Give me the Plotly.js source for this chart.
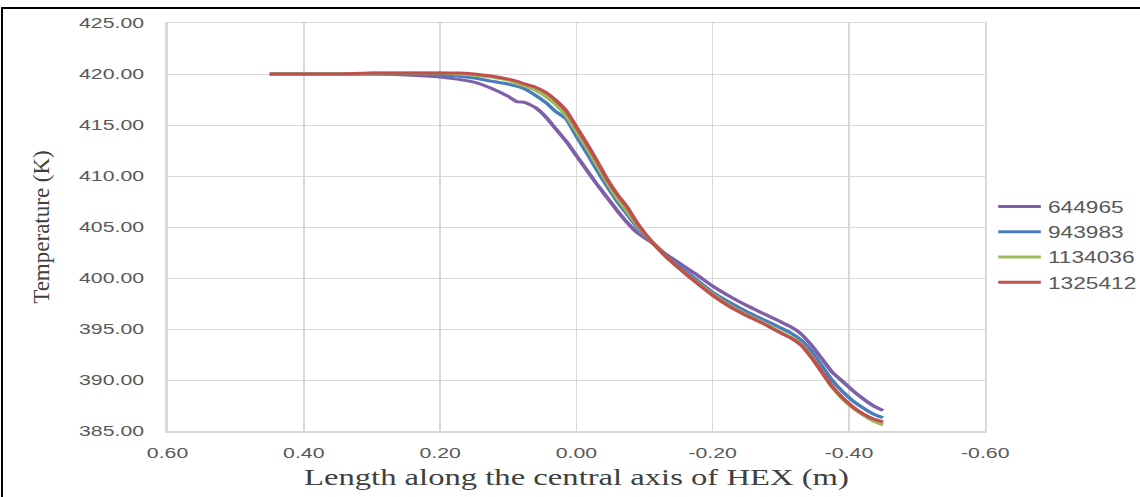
<!DOCTYPE html>
<html>
<head>
<meta charset="utf-8">
<script src="https://cdn.plot.ly/plotly-3.0.1.min.js"></script>
<style>
  html, body { margin: 0; padding: 0; width: 1140px; height: 497px; overflow: hidden; background: #fff; }
  #chart { position: absolute; left: 0; top: 0; width: 803px; height: 497px; transform: scale(1.4197, 1); transform-origin: 0 0; }
  #frame { position: absolute; left: 1px; top: 7px; width: 1300px; height: 700px; border-left: 2px solid #000; border-top: 2px solid #000; pointer-events: none; }
</style>
</head>
<body>
<div id="chart"></div>
<div id="frame"></div>
<script>
// Position along the central axis of the HEX (m)
const xPos = [0.45, 0.40, 0.35, 0.30, 0.25, 0.20, 0.175, 0.15, 0.125, 0.10, 0.088, 0.075, 0.06, 0.045, 0.03, 0.015, 0.0,
  -0.015, -0.03, -0.045, -0.06, -0.075, -0.09, -0.11, -0.13, -0.15, -0.175, -0.2, -0.225, -0.25, -0.275, -0.3,
  -0.315, -0.33, -0.345, -0.36, -0.375, -0.39, -0.405, -0.42, -0.435, -0.45];

const seriesNames = ["644965", "943983", "1134036", "1325412"];

const t644965 = [420.0, 420.0, 420.0, 420.0, 419.9, 419.7, 419.5, 419.2, 418.6, 417.8,
  417.3, 417.2, 416.7, 415.8, 414.6, 413.4, 412.0, 410.6, 409.2, 407.9,
  406.6, 405.4, 404.4, 403.5, 402.4, 401.5, 400.4, 399.2, 398.2, 397.3,
  396.5, 395.7, 395.2, 394.5, 393.4, 392.1, 390.8, 389.9, 389.0, 388.2,
  387.5, 387.0];

const t943983 = [420.0, 420.0, 420.0, 420.0, 420.0, 419.9, 419.8, 419.6, 419.3, 419.0,
  418.8, 418.5, 417.9, 417.2, 416.3, 415.6, 413.9, 412.3, 410.6, 409.0,
  407.5, 406.2, 404.9, 403.6, 402.3, 401.2, 399.9, 398.6, 397.6, 396.7,
  395.9, 395.1, 394.6, 393.9, 392.8, 391.4, 390.0, 388.9, 388.0, 387.3,
  386.7, 386.3];

const t1134036 = [420.0, 420.0, 420.0, 420.1, 420.1, 420.1, 420.0, 419.9, 419.7, 419.4,
  419.1, 418.8, 418.4, 417.8, 417.0, 415.9, 414.4, 412.8, 411.1, 409.4,
  407.8, 406.5, 405.1, 403.6, 402.2, 401.0, 399.7, 398.4, 397.3, 396.4,
  395.6, 394.7, 394.2, 393.5, 392.3, 390.8, 389.3, 388.2, 387.3, 386.6,
  386.0, 385.6];

const t1325412 = [420.0, 420.0, 420.0, 420.1, 420.1, 420.1, 420.1, 420.0, 419.8, 419.5,
  419.3, 419.0, 418.7, 418.2, 417.4, 416.4, 414.8, 413.2, 411.5, 409.7,
  408.2, 406.9, 405.3, 403.6, 402.2, 401.0, 399.6, 398.3, 397.2, 396.3,
  395.5, 394.6, 394.1, 393.4, 392.2, 390.8, 389.4, 388.3, 387.4, 386.7,
  386.2, 385.9];

const xTickVals = [0.6, 0.4, 0.2, 0.0, -0.2, -0.4, -0.6];
const xTickText = ["0.60", "0.40", "0.20", "0.00", "-0.20", "-0.40", "-0.60"];

const colors = ["#7F5FA8", "#4A7EBB", "#9BBB59", "#C0504D"];
const allSeries = [t644965, t943983, t1134036, t1325412];

const traces = allSeries.map((ys, i) => ({
  type: "scatter",
  mode: "lines",
  name: seriesNames[i],
  legendgroup: "g" + i,
  x: xPos,
  y: ys,
  line: { color: colors[i], width: 3, shape: "spline", smoothing: 0.5 }
}));

const layout = {
  width: 803,
  height: 497,
  margin: { l: 118, r: 109, t: 23, b: 66 },
  paper_bgcolor: "#ffffff",
  plot_bgcolor: "#ffffff",
  showlegend: true,
  legend: {
    xref: "container",
    x: 0.8694, xanchor: "left",
    y: 0.457, yanchor: "middle",
    font: { family: "Liberation Sans, Arial, sans-serif", size: 16, color: "#595959" },
    bgcolor: "rgba(0,0,0,0)",
    tracegroupgap: 1.5,
    itemwidth: 30
  },
  xaxis: {
    range: [0.6, -0.6],
    tickvals: xTickVals,
    ticktext: xTickText,
    showgrid: true,
    gridcolor: "#d9d9d9",
    gridwidth: 1,
    zeroline: false,
    showline: true,
    linecolor: "#d9d9d9",
    linewidth: 1.5,
    mirror: true,
    ticks: "",
    ticklabelstandoff: 8,
    tickfont: { family: "Liberation Sans Narrow, Liberation Sans, Arial, sans-serif", size: 15, color: "#595959" },
    title: {
      text: "Length along the central axis of HEX (m)",
      font: { family: "Liberation Serif, Times New Roman, serif", size: 23, color: "#404040" },
      standoff: 8
    }
  },
  yaxis: {
    range: [385, 425],
    dtick: 5,
    tickformat: ".2f",
    showgrid: true,
    gridcolor: "#d9d9d9",
    gridwidth: 1,
    zeroline: false,
    showline: true,
    linecolor: "#d9d9d9",
    linewidth: 1.5,
    mirror: true,
    ticks: "",
    ticklabelstandoff: 12,
    tickfont: { family: "Liberation Sans, Arial, sans-serif", size: 15, color: "#595959" },
    title: {
      text: "Temperature (K)",
      font: { family: "Liberation Serif, Times New Roman, serif", size: 23, color: "#404040" },
      standoff: 14
    }
  }
};

Plotly.newPlot("chart", traces, layout, { displayModeBar: false, staticPlot: true }).then(() => {
  // the rotated y title is not stretched horizontally in the reference: undo the page stretch for it
  const yt = document.querySelector("#chart .ytitle");
  if (yt) {
    const x = parseFloat(yt.getAttribute("x"));
    const y = parseFloat(yt.getAttribute("y"));
    const k = 1 / 1.4197;
    yt.setAttribute("transform",
      "translate(" + x + "," + y + ") scale(" + k + ",1) translate(" + (-x) + "," + (-y) + ") rotate(-90," + x + "," + y + ")");
  }
});
</script>
</body>
</html>
